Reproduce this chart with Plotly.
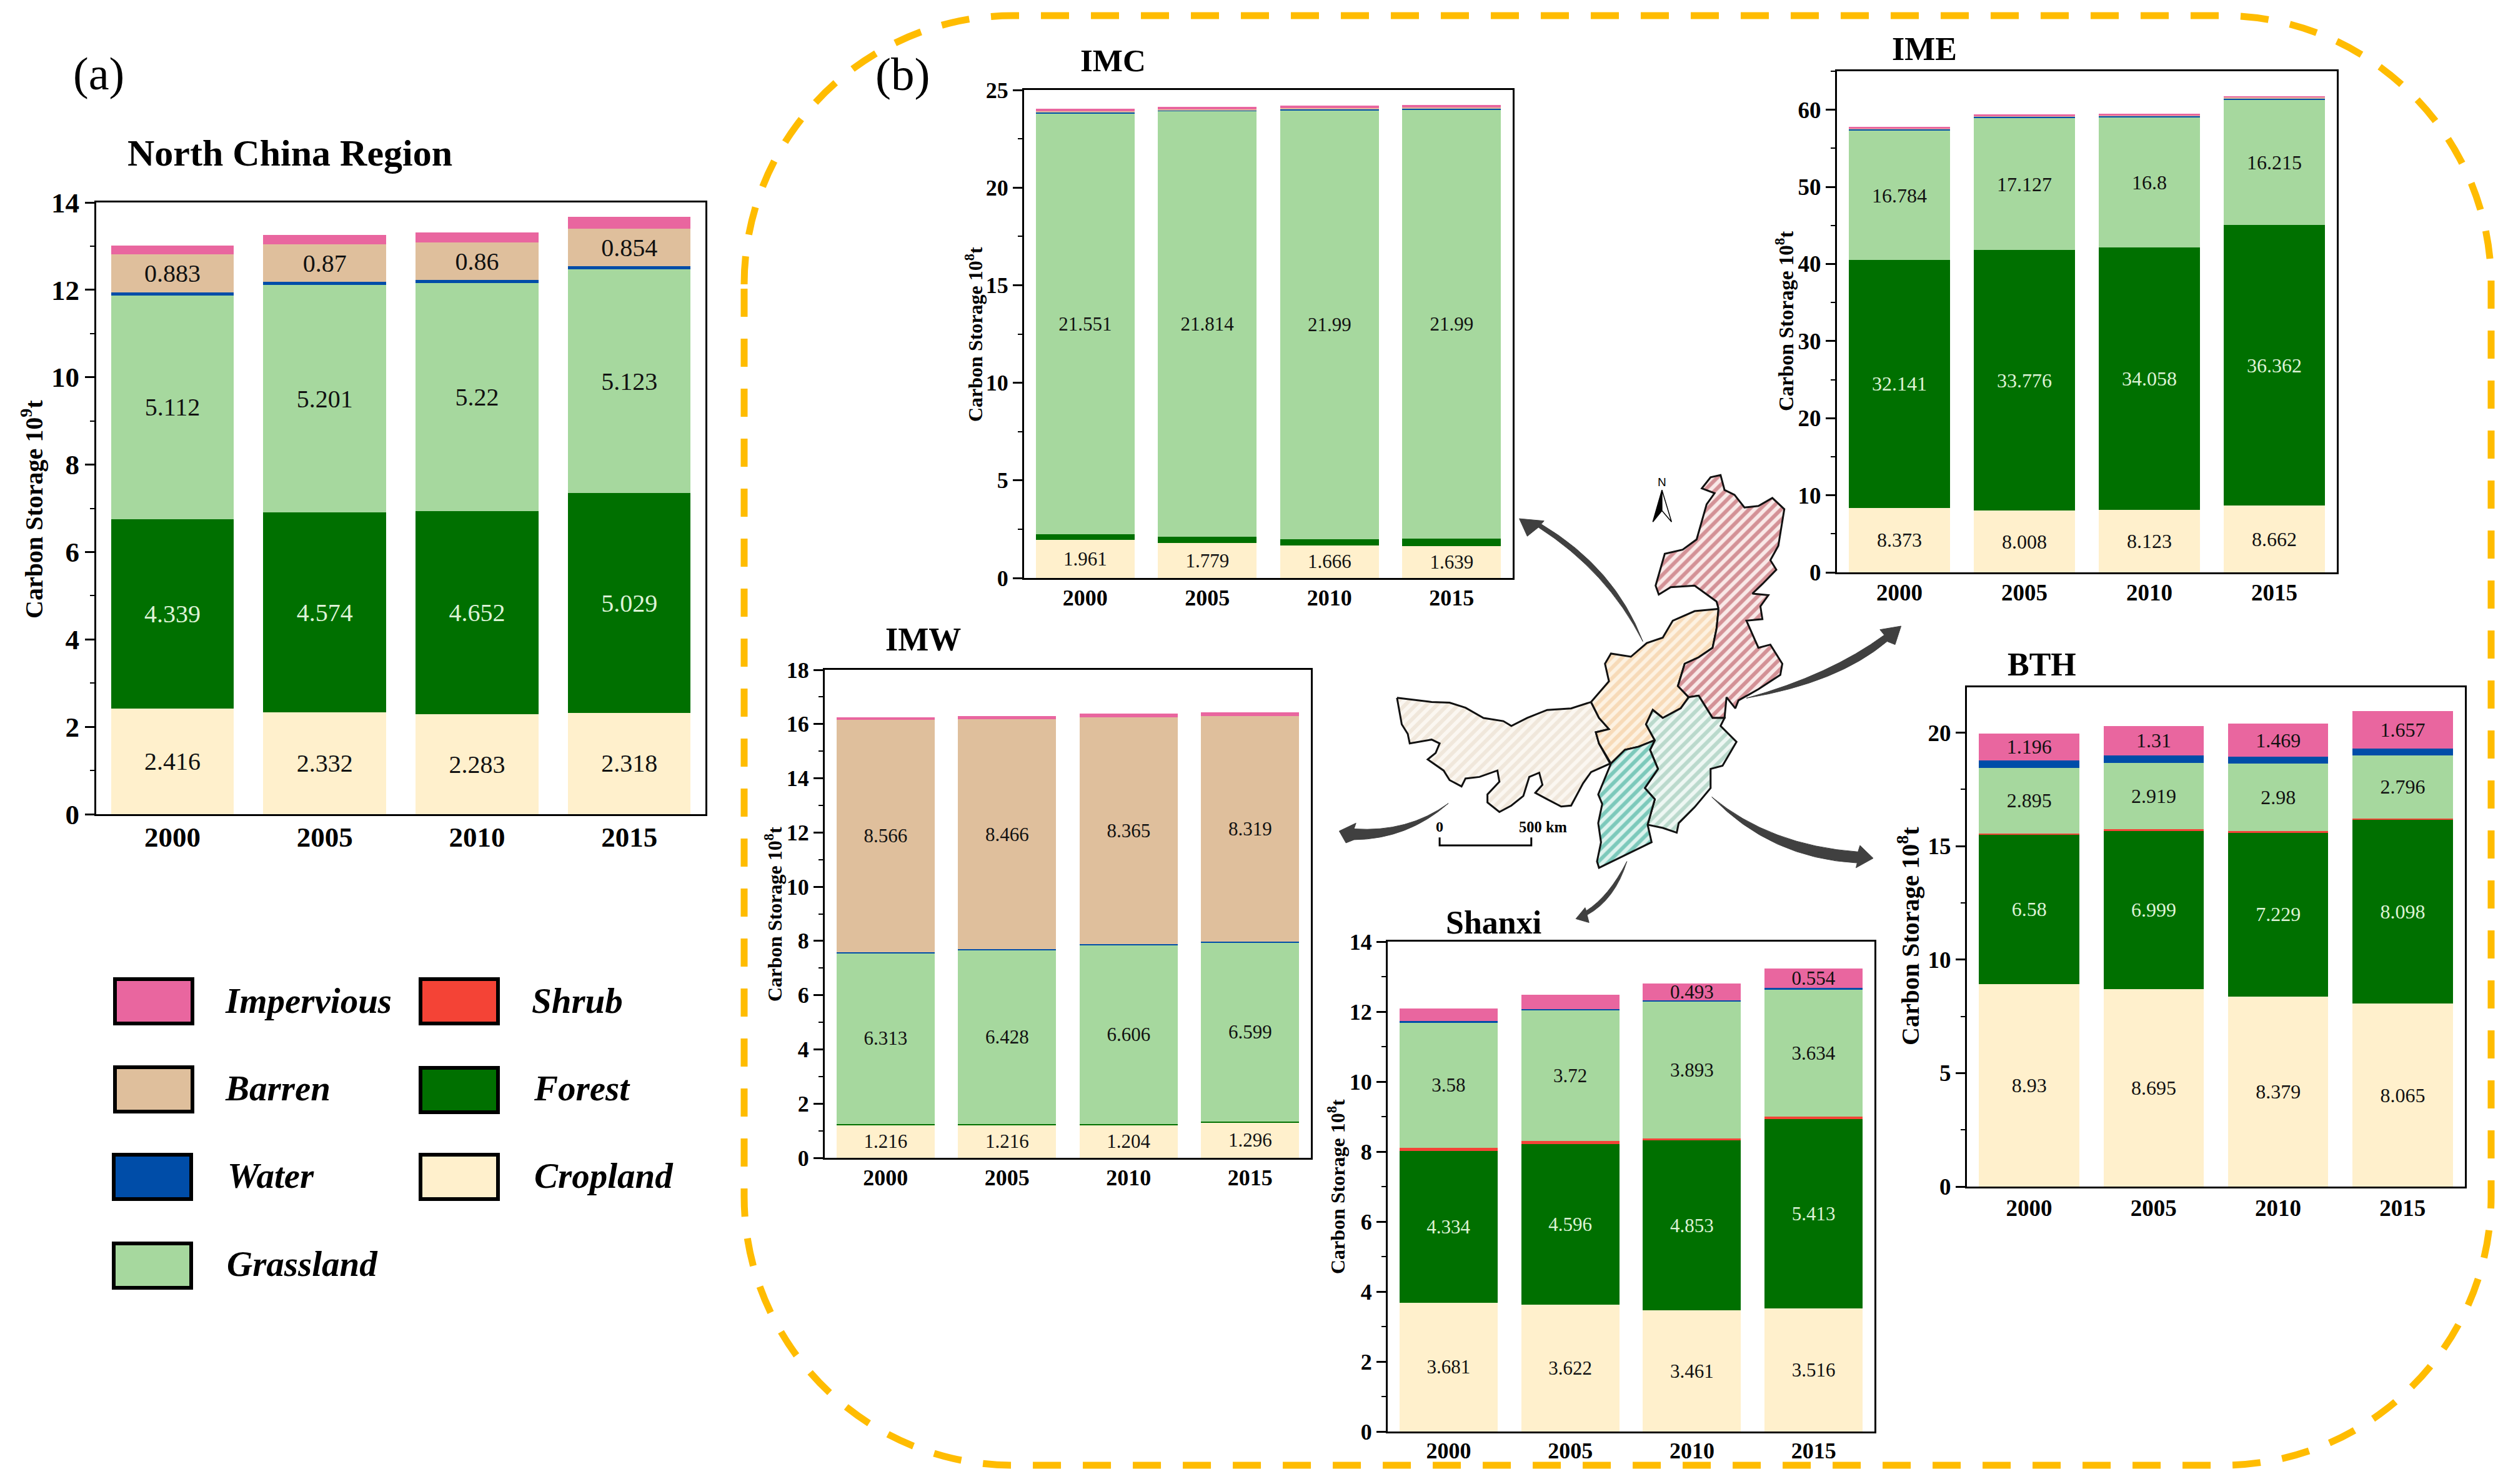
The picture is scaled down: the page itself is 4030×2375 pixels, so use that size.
# plot.py
import plotly.graph_objects as go

W, H = 4030, 2375
FONT = "Liberation Serif"
BLACK = "#000000"

YEARS = ["2000", "2005", "2010", "2015"]

COLORS = {
    "Cropland": "#FFF0CC",
    "Forest": "#007000",
    "Shrub": "#F44336",
    "Grassland": "#A6D89E",
    "Water": "#004DA8",
    "Barren": "#DFBF9C",
    "Impervious": "#E9669F",
}
STACK_ORDER = ["Cropland", "Forest", "Shrub", "Grassland", "Water", "Barren", "Impervious"]

# North China Region (10^9 t)
NC_CROP = [2.416, 2.332, 2.283, 2.318]
NC_FOREST = [4.339, 4.574, 4.652, 5.029]
NC_SHRUB = [0, 0, 0, 0]
NC_GRASS = [5.112, 5.201, 5.22, 5.123]
NC_WATER = [0.07, 0.07, 0.07, 0.07]
NC_BARREN = [0.883, 0.87, 0.86, 0.854]
NC_IMP = [0.2, 0.21, 0.23, 0.28]

# IMC (10^8 t)
IMC_CROP = [1.961, 1.779, 1.666, 1.639]
IMC_FOREST = [0.29, 0.33, 0.31, 0.37]
IMC_SHRUB = [0, 0, 0, 0]
IMC_GRASS = [21.551, 21.814, 21.99, 21.99]
IMC_WATER = [0.06, 0.05, 0.05, 0.05]
IMC_BARREN = [0.05, 0.04, 0.04, 0.05]
IMC_IMP = [0.12, 0.12, 0.13, 0.14]

# IME
IME_CROP = [8.373, 8.008, 8.123, 8.662]
IME_FOREST = [32.141, 33.776, 34.058, 36.362]
IME_SHRUB = [0, 0, 0, 0]
IME_GRASS = [16.784, 17.127, 16.8, 16.215]
IME_WATER = [0.22, 0.22, 0.22, 0.24]
IME_BARREN = [0.06, 0.06, 0.07, 0.08]
IME_IMP = [0.21, 0.22, 0.23, 0.24]

# IMW
IMW_CROP = [1.216, 1.216, 1.204, 1.296]
IMW_FOREST = [0.03, 0.03, 0.04, 0.04]
IMW_SHRUB = [0, 0, 0, 0]
IMW_GRASS = [6.313, 6.428, 6.606, 6.599]
IMW_WATER = [0.03, 0.03, 0.04, 0.03]
IMW_BARREN = [8.566, 8.466, 8.365, 8.319]
IMW_IMP = [0.1, 0.13, 0.125, 0.16]

# Shanxi
SX_CROP = [3.681, 3.622, 3.461, 3.516]
SX_FOREST = [4.334, 4.596, 4.853, 5.413]
SX_SHRUB = [0.09, 0.09, 0.07, 0.07]
SX_GRASS = [3.58, 3.72, 3.893, 3.634]
SX_WATER = [0.04, 0.04, 0.04, 0.04]
SX_BARREN = [0, 0, 0, 0]
SX_IMP = [0.36, 0.41, 0.493, 0.554]

# BTH
BTH_CROP = [8.93, 8.695, 8.379, 8.065]
BTH_FOREST = [6.58, 6.999, 7.229, 8.098]
BTH_SHRUB = [0.05, 0.05, 0.05, 0.05]
BTH_GRASS = [2.895, 2.919, 2.98, 2.796]
BTH_WATER = [0.32, 0.33, 0.3, 0.3]
BTH_BARREN = [0, 0, 0, 0]
BTH_IMP = [1.196, 1.31, 1.469, 1.657]


def stack(crop, forest, shrub, grass, water, barren, imp):
    return dict(zip(STACK_ORDER, [crop, forest, shrub, grass, water, barren, imp]))


# box = left, right, top, bottom in page pixels
PANELS = [
    dict(name="North China Region", box=(154, 1129, 324, 1303), ymax=14, dtick=2, unit="9", x_standoff=-5,
         data=stack(NC_CROP, NC_FOREST, NC_SHRUB, NC_GRASS, NC_WATER, NC_BARREN, NC_IMP),
         labeled=["Cropland", "Forest", "Grassland", "Barren"],
         tick=45, label=40, axis_title=40, ax_xy=(51, 815), title=60, title_xy=(464, 245)),
    dict(name="IMC", box=(1639, 2421, 144, 925), ymax=25, dtick=5, unit="8", x_standoff=-2,
         data=stack(IMC_CROP, IMC_FOREST, IMC_SHRUB, IMC_GRASS, IMC_WATER, IMC_BARREN, IMC_IMP),
         labeled=["Cropland", "Grassland"],
         tick=36, label=31, axis_title=32, ax_xy=(1559, 535), title=51, title_xy=(1781, 97)),
    dict(name="IME", box=(2940, 3740, 114, 916), ymax=65, dtick=10, unit="8", x_standoff=-2,
         data=stack(IME_CROP, IME_FOREST, IME_SHRUB, IME_GRASS, IME_WATER, IME_BARREN, IME_IMP),
         labeled=["Cropland", "Forest", "Grassland"],
         tick=37, label=32, axis_title=33, ax_xy=(2856, 514), title=52, title_xy=(3080, 78)),
    dict(name="IMW", box=(1320, 2098, 1072, 1853), ymax=18, dtick=2, unit="8", x_standoff=-2,
         data=stack(IMW_CROP, IMW_FOREST, IMW_SHRUB, IMW_GRASS, IMW_WATER, IMW_BARREN, IMW_IMP),
         labeled=["Cropland", "Grassland", "Barren"],
         tick=36, label=31, axis_title=32, ax_xy=(1238, 1463), title=52, title_xy=(1477, 1023)),
    dict(name="Shanxi", box=(2221, 3000, 1507, 2291), ymax=14, dtick=2, unit="8", x_standoff=-3,
         data=stack(SX_CROP, SX_FOREST, SX_SHRUB, SX_GRASS, SX_WATER, SX_BARREN, SX_IMP),
         labeled=["Cropland", "Forest", "Grassland", "Impervious"], hide_imp=[0, 1],
         tick=36, label=31, axis_title=32, ax_xy=(2139, 1899), title=52, title_xy=(2390, 1476)),
    dict(name="BTH", box=(3148, 3945, 1100, 1899), ymax=22, dtick=5, unit="8", x_standoff=0,
         data=stack(BTH_CROP, BTH_FOREST, BTH_SHRUB, BTH_GRASS, BTH_WATER, BTH_BARREN, BTH_IMP),
         labeled=["Cropland", "Forest", "Grassland", "Impervious"],
         tick=37, label=32, axis_title=40, ax_xy=(3054, 1498), title=52, title_xy=(3268, 1063)),
]

fig = go.Figure()
annotations = []
shapes = []


def px_text(x, y, text, size, **kw):
    annotations.append(dict(
        x=x, y=y, xref="x7", yref="y7", text=text, showarrow=False,
        font=dict(family=FONT, size=size, color=kw.pop("color", BLACK)), **kw
    ))


for i, p in enumerate(PANELS, start=1):
    left, right, top, bottom = p["box"]
    suffix = "" if i == 1 else str(i)
    xname, yname = f"x{suffix}", f"y{suffix}"
    for series in STACK_ORDER:
        values = p["data"][series]
        text = [str(v) if series in p["labeled"] else "" for v in values]
        if series == "Impervious":
            for j in p.get("hide_imp", []):
                text[j] = ""
        fig.add_trace(go.Bar(
            x=YEARS, y=values, xaxis=xname, yaxis=yname, name=series,
            width=0.806, marker=dict(color=COLORS[series], line=dict(width=0)),
            text=text, textposition="inside", insidetextanchor="middle", textangle=0,
            constraintext="none", cliponaxis=False,
            textfont=dict(family=FONT, size=p["label"],
                          color="#DDF3D6" if series == "Forest" else "#111111"),
            showlegend=False,
        ))
    tickfont = dict(family=FONT, size=p["tick"], color=BLACK, weight="bold")
    fig.update_layout({
        f"xaxis{suffix}": dict(
            domain=[left / W, right / W], anchor=yname, type="category", automargin=False,
            categoryorder="array", categoryarray=YEARS, range=[-0.5, 3.5],
            showline=True, mirror=True, linecolor=BLACK, linewidth=3,
            ticks="", showgrid=False, zeroline=False, tickfont=tickfont,
            ticklabelstandoff=p["x_standoff"],
        ),
        f"yaxis{suffix}": dict(
            domain=[1 - bottom / H, 1 - top / H], anchor=xname, range=[0, p["ymax"]], automargin=False,
            tick0=0, dtick=p["dtick"], ticks="outside", ticklen=15, tickwidth=3, tickcolor=BLACK,
            minor=dict(dtick=p["dtick"] / 2, ticks="outside", ticklen=7, tickwidth=2,
                       tickcolor=BLACK, showgrid=False),
            showline=True, mirror=True, linecolor=BLACK, linewidth=3,
            showgrid=False, zeroline=False, tickfont=tickfont,
        ),
    })
    px_text(p["title_xy"][0], p["title_xy"][1], f"<b>{p['name']}</b>", p["title"])
    px_text(p["ax_xy"][0], p["ax_xy"][1], f"<b>Carbon Storage 10<sup>{p['unit']}</sup>t</b>",
            p["axis_title"], textangle=-90)

# overlay axis in page pixels, for everything that is not a bar panel
fig.update_layout(
    xaxis7=dict(domain=[0, 1], range=[0, W], visible=False, anchor="y7", fixedrange=True, automargin=False),
    yaxis7=dict(domain=[0, 1], range=[H, 0], visible=False, anchor="x7", fixedrange=True, automargin=False),
)

px_text(158, 118, "(a)", 74)
px_text(1444, 118, "(b)", 75)

# legend
LEGEND_ITEMS = [
    ("Impervious", 181, 1564, 358, 1601),
    ("Barren", 181, 1705, 358, 1741),
    ("Water", 179, 1845, 362, 1881),
    ("Grassland", 179, 1987, 361, 2022),
    ("Shrub", 670, 1564, 849, 1601),
    ("Forest", 670, 1706, 852, 1741),
    ("Cropland", 670, 1845, 853, 1881),
]
for name, bx, by, tx, ty in LEGEND_ITEMS:
    shapes.append(dict(type="rect", xref="x7", yref="y7", x0=bx + 3, x1=bx + 127, y0=by + 3, y1=by + 74,
                       fillcolor=COLORS[name], line=dict(color=BLACK, width=6)))
    px_text(tx, ty, f"<b><i>{name}</i></b>", 57, xanchor="left")

# dashed frame round panel (b)
fx0, fx1, fy0, fy1, rad = 1191, 3987, 25, 2345, 430
k = rad * 0.45
frame = (
    f"M {fx0},{fy0 + rad} C {fx0},{fy0 + k} {fx0 + k},{fy0} {fx0 + rad},{fy0} "
    f"L {fx1 - rad},{fy0} C {fx1 - k},{fy0} {fx1},{fy0 + k} {fx1},{fy0 + rad} "
    f"L {fx1},{fy1 - rad} C {fx1},{fy1 - k} {fx1 - k},{fy1} {fx1 - rad},{fy1} "
    f"L {fx0 + rad},{fy1} C {fx0 + k},{fy1} {fx0},{fy1 - k} {fx0},{fy1 - rad} Z"
)
shapes.append(dict(type="path", xref="x7", yref="y7", path=frame, layer="below",
                   line=dict(color="#FFBC00", width=11, dash="45px,35px")))


# map outlines, traced by eye, in crop coordinates of the map region
def mx(v):
    return 2100 + v / 1.568


def my(v):
    return 700 + v / 1.96


MAP_IMW = [(213, 817), (300, 830), (345, 832), (385, 848), (430, 880), (480, 890), (500, 905), (540, 880),
           (590, 855), (650, 850), (700, 830), (720, 880), (745, 915), (712, 925), (720, 960), (748, 1023),
           (700, 1050), (680, 1085), (650, 1155), (625, 1158), (590, 1135), (560, 1115), (578, 1090),
           (570, 1052), (545, 1065), (530, 1125), (500, 1155), (470, 1175), (440, 1145), (440, 1120),
           (470, 1080), (465, 1045), (420, 1065), (385, 1070), (375, 1095), (345, 1075), (330, 1045),
           (290, 1010), (310, 990), (320, 960), (300, 948), (270, 955), (245, 960), (240, 930), (225, 900),
           (213, 817)]
MAP_IMC = [(700, 830), (745, 765), (735, 710), (750, 678), (800, 688), (840, 645), (880, 628), (905, 575),
           (960, 545), (1020, 538), (1015, 600), (1005, 660), (970, 690), (935, 710), (918, 780), (945, 815),
           (925, 850), (880, 880), (855, 855), (838, 900), (860, 950), (820, 970), (785, 980), (750, 1023),
           (720, 960), (712, 925), (745, 915), (720, 880), (700, 830)]
MAP_IME = [(1020, 538), (1015, 515), (960, 465), (900, 470), (870, 493), (862, 465), (885, 365), (930, 352),
           (965, 320), (990, 210), (1010, 175), (978, 160), (1000, 125), (1025, 118), (1035, 165), (1060, 180),
           (1085, 220), (1120, 215), (1155, 190), (1185, 225), (1170, 340), (1150, 385), (1165, 415), (1130, 460),
           (1105, 490), (1145, 495), (1125, 530), (1130, 570), (1090, 575), (1120, 660), (1150, 650), (1180, 710),
           (1175, 745), (1120, 790), (1070, 825), (1062, 850), (1040, 815), (1035, 880), (1005, 880), (970, 810),
           (945, 815), (918, 780), (935, 710), (970, 690), (1005, 660), (1015, 600), (1020, 538)]
MAP_BTH = [(970, 810), (1005, 880), (1035, 880), (1025, 905), (1065, 955), (1030, 1030), (1000, 1040),
           (1000, 1100), (960, 1160), (920, 1210), (915, 1240), (880, 1225), (842, 1215), (860, 1135),
           (835, 1100), (868, 1040), (848, 980), (860, 950), (838, 900), (855, 855), (880, 880), (925, 850),
           (945, 815), (970, 810)]
MAP_SX = [(860, 950), (848, 980), (868, 1040), (835, 1100), (860, 1135), (842, 1215), (852, 1270), (785, 1310),
          (720, 1350), (715, 1330), (725, 1270), (718, 1210), (728, 1150), (718, 1120), (745, 1040), (750, 1023),
          (785, 980), (820, 970), (860, 950)]

MAP_REGIONS = [
    (MAP_IMW, "#E6D8C5", "#FBF7F1"),
    (MAP_IMC, "#F1C28D", "#FDF2E2"),
    (MAP_IME, "#AE3A43", "#F9E9E8"),
    (MAP_BTH, "#85BCA6", "#EEF7F3"),
    (MAP_SX, "#1C9F88", "#DDF3EE"),
]
for outline, fg, bg in MAP_REGIONS:
    fig.add_trace(go.Scatter(
        x=[mx(a) for a, _ in outline], y=[my(b) for _, b in outline], xaxis="x7", yaxis="y7",
        mode="lines", fill="toself", fillcolor=bg,
        fillpattern=dict(shape="/", size=12, solidity=0.5, fgcolor=fg, bgcolor=bg),
        line=dict(color="#111111", width=3), hoverinfo="skip", showlegend=False,
    ))


def map_path(cmds):
    # cmds mix letters and (x, y) points in map crop coordinates
    out = []
    for c in cmds:
        out.append(c if isinstance(c, str) else f"{mx(c[0]):.1f},{my(c[1]):.1f}")
    return " ".join(out)


MAP_ARROWS = [
    ["M", (830, 640), "Q", (740, 420), (568, 282), "L", (540, 310), "L", (520, 255), "L", (582, 262),
     "L", (575, 272), "Q", (760, 410), (830, 640), "Z"],
    ["M", (1090, 818), "Q", (1320, 770), (1443, 640), "L", (1463, 650), "L", (1478, 592), "L", (1425, 603),
     "L", (1436, 620), "Q", (1300, 745), (1090, 818), "Z"],
    ["M", (342, 1148), "Q", (240, 1260), (105, 1262), "L", (85, 1272), "L", (68, 1235), "L", (110, 1210),
     "L", (105, 1228), "Q", (240, 1240), (342, 1148), "Z"],
    ["M", (1003, 1128), "Q", (1150, 1280), (1370, 1300), "L", (1375, 1280), "L", (1408, 1320), "L", (1365, 1350),
     "L", (1368, 1335), "Q", (1150, 1320), (1003, 1128), "Z"],
    ["M", (790, 1330), "Q", (760, 1450), (690, 1498), "L", (695, 1522), "L", (662, 1510), "L", (685, 1475),
     "L", (688, 1485), "Q", (745, 1440), (790, 1330), "Z"],
]
for arrow in MAP_ARROWS:
    shapes.append(dict(type="path", xref="x7", yref="y7", path=map_path(arrow),
                       fillcolor="#404040", line=dict(color="#404040", width=1)))

# north arrow and scale bar
shapes.append(dict(type="path", xref="x7", yref="y7",
                   path=map_path(["M", (878, 165), "L", (855, 265), "L", (878, 230), "Z"]),
                   fillcolor=BLACK, line=dict(color=BLACK, width=1.5)))
shapes.append(dict(type="path", xref="x7", yref="y7",
                   path=map_path(["M", (878, 165), "L", (902, 265), "L", (878, 230), "Z"]),
                   fillcolor="white", line=dict(color=BLACK, width=1.5)))
shapes.append(dict(type="path", xref="x7", yref="y7",
                   path=map_path(["M", (320, 1255), "L", (320, 1280), "L", (550, 1280), "L", (550, 1255)]),
                   line=dict(color=BLACK, width=3)))
annotations.append(dict(x=mx(878), y=my(140), xref="x7", yref="y7", text="N", showarrow=False,
                        font=dict(family="Liberation Sans", size=19, color=BLACK)))
px_text(mx(320), my(1222), "<b>0</b>", 24)
px_text(mx(580), my(1222), "<b>500 km</b>", 24.5)

fig.update_layout(
    width=W, height=H, autosize=False,
    margin=dict(l=0, r=0, t=0, b=0),
    paper_bgcolor="white", plot_bgcolor="rgba(0,0,0,0)",
    barmode="stack", bargap=0.194,
    annotations=annotations, shapes=shapes,
    font=dict(family=FONT, color=BLACK),
    showlegend=False,
)

fig.write_html("out.html", config={"displayModeBar": False},
               post_script="document.body.style.margin='0';")
